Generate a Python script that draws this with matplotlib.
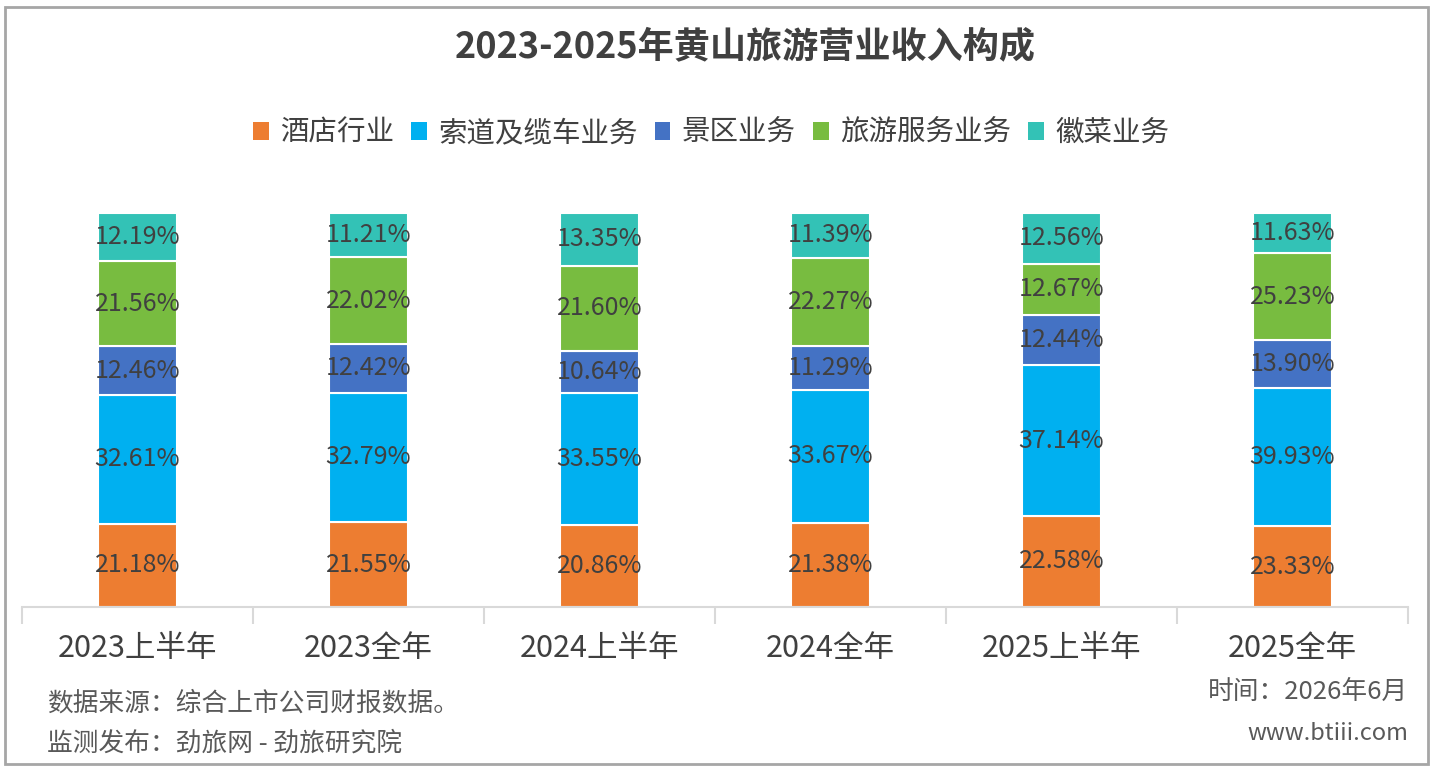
import numpy as np
import matplotlib.pyplot as plt
from matplotlib.patches import Patch, Rectangle

plt.rcParams['font.family'] = ['Noto Sans CJK SC', 'DejaVu Sans']

# data (shares as labelled; bars drawn as 100% stacks)
periods = ['2023上半年', '2023全年', '2024上半年', '2024全年', '2025上半年', '2025全年']
series = ['酒店行业', '索道及缆车业务', '景区业务', '旅游服务业务', '徽菜业务']
hotel = [21.18, 21.55, 20.86, 21.38, 22.58, 23.33]
cable = [32.61, 32.79, 33.55, 33.67, 37.14, 39.93]
scenic = [12.46, 12.42, 10.64, 11.29, 12.44, 13.90]
travel = [21.56, 22.02, 21.60, 22.27, 12.67, 25.23]
cuisine = [12.19, 11.21, 13.35, 11.39, 12.56, 11.63]
colors = ['#ED7D31', '#00B0F0', '#4472C4', '#78BC40', '#33C2B6']

fig = plt.figure(figsize=(14.38, 7.74), dpi=100)
ax = fig.add_axes([22/1438, 1-607/774, (1408-22)/1438, (607-213)/774])

data = np.array([hotel, cable, scenic, travel, cuisine])
totals = data.sum(axis=0)
x = np.arange(len(periods))
bottom = np.zeros(len(periods))
for vals, col in zip(data, colors):
    h = vals / totals * 100
    ax.bar(x, h, width=0.34, bottom=bottom, color=col, edgecolor='white', linewidth=1.5)
    for xi, b, hh, v in zip(x, bottom, h, vals):
        ax.text(xi, b + hh/2, f'{v:.2f}%', ha='center', va='center', fontsize=18, color='#404040')
    bottom += h

ax.set_xlim(-0.5, len(periods) - 0.5)
ax.set_ylim(0, 100)
ax.set_yticks([])
for s in ['top', 'right', 'left']:
    ax.spines[s].set_visible(False)
ax.spines['bottom'].set_color('#d9d9d9')
ax.spines['bottom'].set_linewidth(1.5)
ax.set_xticks(x)
ax.set_xticklabels(periods, fontsize=22, color='#404040')
ax.tick_params(axis='x', length=0, pad=19)
# separator ticks between categories
ax.set_xticks(np.arange(-0.5, len(periods)), minor=True)
ax.tick_params(axis='x', which='minor', length=12, color='#d9d9d9', width=1.5)

fig.suptitle('2023-2025年黄山旅游营业收入构成', x=745/1438, y=1-47/774, va='center',
             fontsize=26, fontweight='bold', color='#404040')

handles = [Patch(facecolor=c, edgecolor='none') for c in colors]
fig.legend(handles, series, loc='center', bbox_to_anchor=(711/1438, 1-133/774), ncol=5,
           frameon=False, fontsize=20.5, labelcolor='#404040', handlelength=0.55, handleheight=0.55,
           handletextpad=0.4, columnspacing=0.6)

fig.text(47/1438, 1-704/774, '数据来源：综合上市公司财报数据。', fontsize=18.5, color='#595959', va='center')
fig.text(47/1438, 1-743/774, '监测发布：劲旅网 - 劲旅研究院', fontsize=18.5, color='#595959', va='center')
fig.text(1408/1438, 1-692/774, '时间：2026年6月', fontsize=18.5, color='#595959', va='center', ha='right')
fig.text(1408/1438, 1-733/774, 'www.btiii.com', fontsize=17, color='#595959', va='center', ha='right')

fig.patches.append(Rectangle((5/1438, 1-764/774), 1423/1438, 757/774, transform=fig.transFigure,
                             fill=False, edgecolor='#a6a6a6', linewidth=2))

fig.savefig('out.png', dpi=100)
